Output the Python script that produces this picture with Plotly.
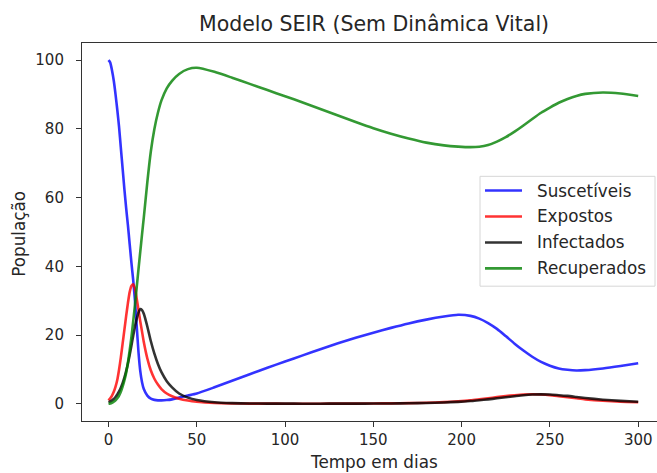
import plotly.graph_objects as go

# ---- data ----
t_days = [0, 1, 2, 3, 4, 5, 6, 7, 8, 9, 10, 11, 12, 13, 14, 15, 16, 17, 18, 19, 20,
          22, 24, 26, 28, 30, 33, 36, 40, 45, 50, 60, 70, 80, 90, 100, 110, 120, 130,
          140, 150, 160, 170, 180, 190, 198, 205, 210, 215, 220, 225, 230, 235, 240,
          245, 250, 255, 260, 265, 270, 280, 290, 300]

suscetiveis = [100, 99.3, 97, 94, 90, 85.5, 80.5, 74.5, 68.5, 62.5, 57, 52, 46.5, 41, 36, 30, 22.5, 15, 9.5, 6.3, 4.3,
               2.4, 1.5, 1.15, 1.0, 1.0, 1.1, 1.3, 1.8, 2.4, 3.0, 4.8, 6.7, 8.6, 10.5, 12.3, 14.1, 15.9, 17.6,
               19.2, 20.7, 22.1, 23.4, 24.5, 25.4, 25.9, 25.6, 24.8, 23.5, 21.8, 19.7, 17.5, 15.5, 13.7,
               12.2, 11.1, 10.3, 9.9, 9.7, 9.8, 10.3, 11.0, 11.8]

expostos = [1.0, 1.6, 2.4, 3.5, 5.0, 7.0, 10.0, 13.5, 17.5, 21.5, 25.5, 29.3, 32.5, 34.3, 34.8, 33.5, 30.5, 27.3, 24.0, 21.0, 18.0,
            13.2, 9.7, 7.3, 5.6, 4.3, 3.0, 2.2, 1.5, 0.95, 0.6, 0.22, 0.1, 0.06, 0.05, 0.04, 0.04, 0.04, 0.05,
            0.07, 0.1, 0.14, 0.2, 0.3, 0.5, 0.72, 1.0, 1.3, 1.6, 1.95, 2.25, 2.5, 2.7, 2.8,
            2.7, 2.5, 2.2, 1.9, 1.6, 1.3, 0.9, 0.6, 0.45]

infectados = [0.5, 0.7, 1.0, 1.4, 2.0, 2.7, 3.6, 4.7, 6.0, 7.6, 9.5, 11.7, 14.2, 17.0, 19.8, 22.5, 24.8, 26.6, 27.6, 27.3, 26.2,
              22.5, 18.2, 14.6, 11.6, 9.2, 6.6, 4.8, 3.0, 1.8, 1.1, 0.45, 0.2, 0.1, 0.07, 0.05, 0.04, 0.04, 0.05,
              0.06, 0.08, 0.11, 0.16, 0.25, 0.4, 0.57, 0.8, 1.05, 1.3, 1.6, 1.9, 2.2, 2.5, 2.7,
              2.75, 2.7, 2.5, 2.3, 2.0, 1.7, 1.2, 0.85, 0.6]

recuperados = [0.0, 0.1, 0.3, 0.6, 1.0, 1.6, 2.4, 3.5, 5.0, 6.8, 9.0, 12.0, 15.5, 19.5, 24.0, 28.8, 34.0, 39.2, 44.3, 49.3, 54.2,
               64.5, 73.5, 80.0, 84.7, 88.3, 91.8, 94.0, 96.0, 97.4, 97.8, 96.6, 94.9, 93.1, 91.3, 89.5, 87.7, 85.8, 83.9,
               82.0, 80.2, 78.6, 77.2, 76.0, 75.2, 74.85, 74.7, 74.8, 75.3, 76.3, 77.6, 79.2, 81.0, 82.9,
               84.7, 86.2, 87.6, 88.7, 89.6, 90.2, 90.6, 90.3, 89.6]

series_names = ["Suscetíveis", "Expostos", "Infectados", "Recuperados"]
series_colors = ["rgba(0,0,255,0.8)", "rgba(255,0,0,0.8)", "rgba(0,0,0,0.8)", "rgba(0,128,0,0.8)"]
x_ticks = [0, 50, 100, 150, 200, 250, 300]
y_ticks = [0, 20, 40, 60, 80, 100]

W, H = 657, 473
L, R, T, B = 82, 657, 43, 421.5
FONT = "DejaVu Sans"
TXT = "#262626"

def px_x(p):
    return (p - L) / (R - L)

def px_y(p):
    return (B - p) / (B - T)

fig = go.Figure()
for name, vals, col in zip(series_names, [suscetiveis, expostos, infectados, recuperados], series_colors):
    fig.add_trace(go.Scatter(x=t_days, y=vals, mode="lines", name=name,
                             line=dict(color=col, width=2.6, shape="spline", smoothing=0.6),
                             showlegend=False))

# manual matplotlib-like legend
shapes = [dict(type="rect", xref="paper", yref="paper",
               x0=px_x(480), x1=px_x(655), y0=px_y(286.5), y1=px_y(176.5),
               line=dict(color="#d6d6d6", width=1), fillcolor="rgba(255,255,255,0.85)", layer="above")]
annotations = []
for i, (name, col) in enumerate(zip(series_names, series_colors)):
    yy = 190.7 + 26 * i
    shapes.append(dict(type="line", xref="paper", yref="paper",
                       x0=px_x(485), x1=px_x(522), y0=px_y(yy), y1=px_y(yy),
                       line=dict(color=col, width=2.6), layer="above"))
    annotations.append(dict(text=name, xref="paper", yref="paper", x=px_x(535), y=px_y(yy),
                            xanchor="left", yanchor="middle", showarrow=False,
                            font=dict(family=FONT, size=16.8, color=TXT)))

annotations.append(dict(text="Tempo em dias", xref="paper", yref="paper", x=px_x(373.5), y=px_y(463),
                        xanchor="center", yanchor="middle", showarrow=False,
                        font=dict(family=FONT, size=16.8, color=TXT)))
annotations.append(dict(text="População", xref="paper", yref="paper", x=px_x(19), y=px_y(234),
                        xanchor="center", yanchor="middle", textangle=-90, showarrow=False,
                        font=dict(family=FONT, size=16.8, color=TXT)))
annotations.append(dict(text="Modelo SEIR (Sem Dinâmica Vital)", xref="paper", yref="paper",
                        x=px_x(373.5), y=px_y(24), xanchor="center", yanchor="middle", showarrow=False,
                        font=dict(family=FONT, size=20.5, color=TXT)))

x_span = (R - L) / ((638 - 108.3) / 300.0)
fig.update_layout(
    width=W, height=H,
    margin=dict(l=L, r=W - R, t=T, b=H - B, pad=0),
    plot_bgcolor="white", paper_bgcolor="white",
    font=dict(family=FONT, size=15, color=TXT),
    shapes=shapes, annotations=annotations,
    xaxis=dict(range=[-15, -15 + x_span], tickvals=x_ticks, ticktext=[str(v) for v in x_ticks],
               showgrid=False, zeroline=False, showline=True, linecolor="#333", linewidth=1.1,
               mirror=True, ticks="outside", ticklen=5, tickwidth=1.1, tickcolor="#333",
               tickfont=dict(family=FONT, size=15, color=TXT)),
    yaxis=dict(range=[-5, 105], tickvals=y_ticks, ticktext=[str(v) for v in y_ticks],
               showgrid=False, zeroline=False, showline=True, linecolor="#333", linewidth=1.1,
               mirror=False, ticks="outside", ticklen=5, tickwidth=1.1, tickcolor="#333",
               ticklabelposition="outside", ticklabelstandoff=9,
               tickfont=dict(family=FONT, size=15, color=TXT)),
)

fig.write_html("out.html")
